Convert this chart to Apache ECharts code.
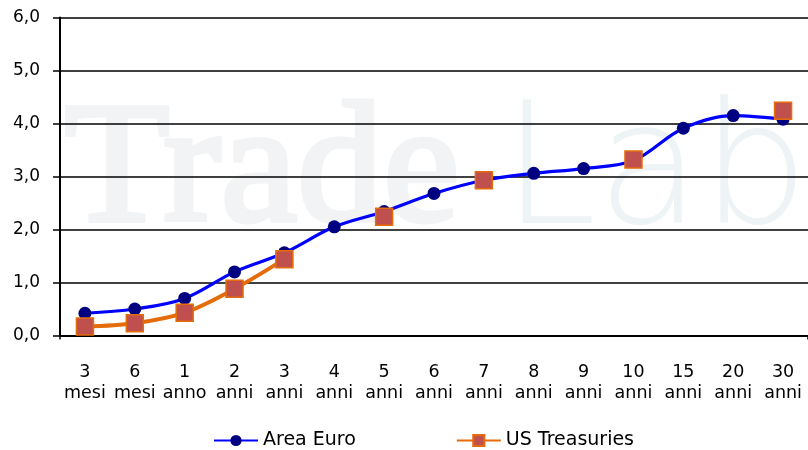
<!DOCTYPE html>
<html>
<head>
<meta charset="utf-8">
<script src="https://cdn.jsdelivr.net/npm/echarts@6/dist/echarts.min.js"></script>
<style>html,body{margin:0;padding:0;background:#fff;}#c{width:808px;height:450px;}</style>
</head>
<body>
<div id="c"></div>
<script>
const categories = ['3\nmesi','6\nmesi','1\nanno','2\nanni','3\nanni','4\nanni','5\nanni','6\nanni','7\nanni','8\nanni','9\nanni','10\nanni','15\nanni','20\nanni','30\nanni'];
const areaEuro = [0.42, 0.50, 0.70, 1.20, 1.56, 2.05, 2.34, 2.68, 2.93, 3.06, 3.15, 3.30, 3.91, 4.15, 4.08];
const usTreasuries = [0.17, 0.23, 0.43, 0.88, 1.44, null, 2.24, null, 2.93, null, null, 3.32, null, null, 4.24];
const yTicks = [0, 1, 2, 3, 4, 5, 6];

const chart = echarts.init(document.getElementById('c'), null, {renderer: 'canvas'});
const font = 'DejaVu Sans, Verdana, sans-serif';
chart.setOption({
  animation: false,
  backgroundColor: '#fff',
  graphic: [
    {type: 'text', left: 62, top: 86, z: -10, silent: true,
     style: {text: 'Trade', font: '172px "Liberation Serif", serif', fill: '#F1F3F5', stroke: '#F1F3F5', lineWidth: 5}},
    {type: 'text', left: 502, top: 94, z: -10, silent: true,
     style: {text: 'Lab', font: '200 170px "DejaVu Sans", sans-serif', fill: '#EEF3F5'}}
  ],
  grid: {left: 60, top: 17.5, width: 750, height: 318, containLabel: false},
  legend: {
    left: 208, top: 426, itemWidth: 44, itemHeight: 14, itemGap: 100,
    textStyle: {fontFamily: font, fontSize: 19, color: '#000'},
    data: ['Area Euro', 'US Treasuries']
  },
  xAxis: {
    type: 'category', data: categories, boundaryGap: true,
    axisLine: {lineStyle: {color: '#000', width: 2}},
    axisTick: {show: true, length: 4, interval: function (i) { return i === 12; }, lineStyle: {color: '#000', width: 1.5}},
    axisLabel: {interval: 0, margin: 26, fontFamily: font, fontSize: 17.5, color: '#000', lineHeight: 21}
  },
  yAxis: {
    type: 'value', min: yTicks[0], max: yTicks[yTicks.length - 1], interval: 1,
    axisLine: {show: true, lineStyle: {color: '#000', width: 2}},
    axisTick: {show: true, length: 7, lineStyle: {color: '#000', width: 1.5}},
    splitLine: {show: true, lineStyle: {color: '#000', width: 1.5}},
    axisLabel: {margin: 20, fontFamily: font, fontSize: 17, color: '#000',
      formatter: function (v) { return v.toFixed(1).replace('.', ','); }}
  },
  series: [
    {
      name: 'Area Euro', type: 'line', data: areaEuro, smooth: 0.35,
      symbol: 'circle', symbolSize: 13,
      lineStyle: {color: '#0000FF', width: 3.2},
      itemStyle: {color: '#000080', borderWidth: 0},
      z: 3
    },
    {
      name: 'US Treasuries', type: 'line', data: usTreasuries, smooth: 0.35, connectNulls: false,
      symbol: 'rect', symbolSize: 17,
      lineStyle: {color: '#E46C0A', width: 4},
      itemStyle: {color: '#C0504D', borderColor: '#E46C0A', borderWidth: 1.5},
      z: 4
    }
  ]
});
</script>
</body>
</html>
